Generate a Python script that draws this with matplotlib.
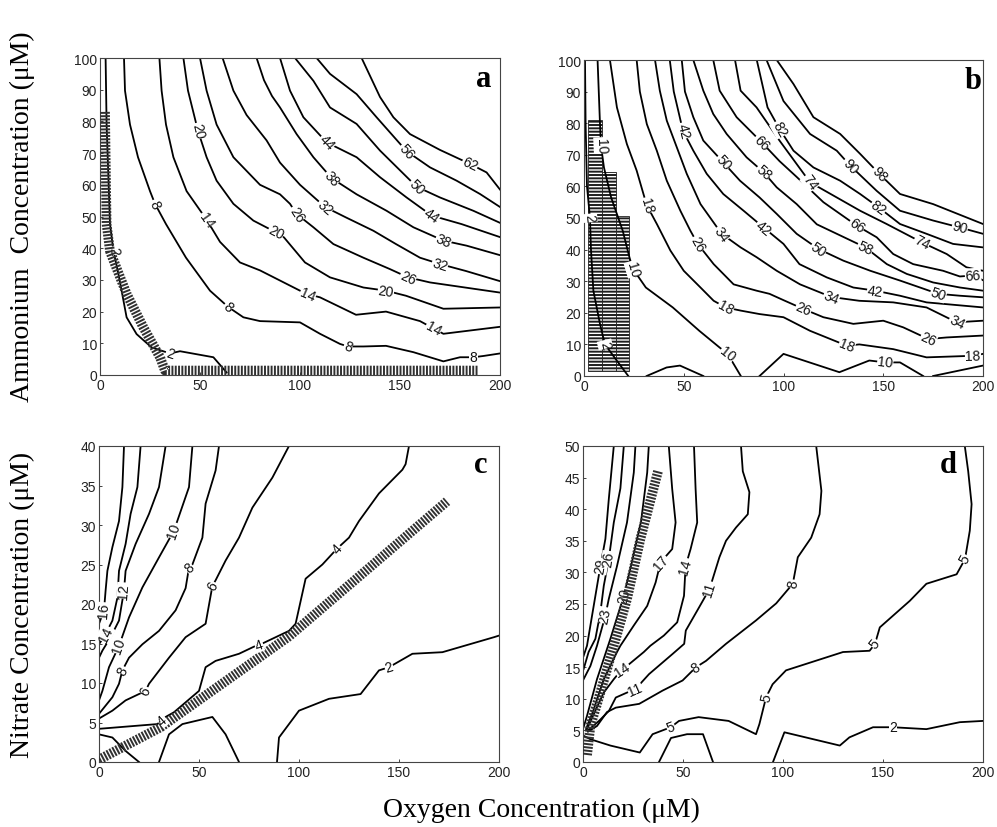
import numpy as np
import matplotlib
matplotlib.use("Agg")
import matplotlib.pyplot as plt

plt.rcParams['hatch.linewidth'] = 1.4
plt.rcParams['hatch.color'] = '#1e1e1e'

# ---------------- Panel a : ammonium vs oxygen ----------------
A_LEVELS = [2, 8, 14, 20, 26, 32, 38, 44, 50, 56, 62]
A_X = [
    [2.8, 3.3, 5.0, 6.7, 9.2, 10.8, 13.3, 18.3, 25.8, 35.0, 40.0, 56.7, 63.3],
    [12, 12.5, 15, 19, 25, 27.5, 33, 43, 55, 64, 71.7, 80, 90, 100, 110, 120, 124, 131.7, 143, 156.7, 171.7, 180, 186.7, 191.7, 200],
    [29.7, 30.8, 33, 36.7, 43.3, 53.3, 60, 70, 80, 90, 100, 104, 110, 128, 143, 160, 166.7, 171.7, 200],
    [41.7, 44, 49, 53.3, 58.3, 66.7, 76.7, 88, 92, 102.5, 115, 131.7, 143, 153, 171.7, 200],
    [50, 53.3, 58.3, 66.7, 80, 90, 95, 98.3, 106.7, 116.7, 131.7, 145, 154, 165, 200],
    [61.3, 66.7, 73.3, 83.3, 90, 100, 112.5, 123, 136.7, 148, 160, 170, 183, 200],
    [78.3, 82, 86, 90, 98.3, 106.7, 115.8, 128.3, 143.3, 156.7, 171.7, 183.3, 200],
    [90, 95, 101.7, 113.3, 128.3, 140, 153.3, 165.8, 180.8, 200],
    [97.5, 106.7, 115, 128.3, 140, 158.3, 170, 186.7, 200],
    [108.3, 115, 128.3, 138.3, 153.3, 165, 178.3, 190, 200],
    [130.8, 140, 146.7, 155, 170, 185, 193.3, 200],
]
A_Y = [
    [100, 79, 47.6, 39.2, 31.9, 26.6, 18.2, 12.9, 8.7, 6.8, 7.5, 5.6, 0.8],
    [100, 89.7, 79, 68.7, 58, 54, 47.6, 37, 26.6, 21.5, 18.2, 17, 16.8, 16.6, 13, 9.8, 9, 9, 9.2, 7.2, 4.3, 5.6, 5.6, 6, 6.8],
    [100, 89.7, 79, 68.7, 58, 49, 42, 35.5, 33, 29.8, 26.6, 25.5, 24.5, 19, 20, 17, 14.7, 13, 15.2],
    [100, 89.7, 77, 68.7, 61.3, 54, 48.7, 45, 43.4, 35.5, 30.8, 27.6, 26.6, 25, 20.9, 21.3],
    [100, 89.7, 79, 68.7, 60, 57, 54, 50.8, 46.6, 41.3, 37, 33.4, 30.8, 29.2, 26],
    [100, 89.7, 82, 74, 67, 60, 53, 49.7, 45.5, 41.3, 37, 35, 32.8, 29.6],
    [100, 93, 88, 84.4, 76, 68.7, 62.1, 57, 51.8, 46.6, 42.4, 40.8, 37.8],
    [100, 89.7, 81.3, 73.4, 68.7, 62.4, 56, 50.3, 47.6, 43.5],
    [100, 92.8, 84.4, 79.2, 70.8, 59.4, 56, 51.8, 48],
    [100, 95, 88.6, 81.3, 70.6, 65.5, 61.3, 57.1, 53],
    [100, 87.7, 81.3, 76, 71, 66.6, 63.9, 58.5],
]
A_LAB_LEV = [2, 2, 8, 8, 8, 8, 14, 14, 14, 20, 20, 20, 26, 26, 32, 32, 38, 38, 44, 44, 50, 56, 62]
A_LAB_X = [6.7, 35, 27.5, 64, 124, 186.7, 53.3, 104, 166.7, 49, 88, 143, 98.3, 154, 112.5, 170, 115.8, 171.7, 113.3, 165.8, 158.3, 153.3, 185]
A_LAB_Y = [39.2, 6.8, 54, 21.5, 9, 5.6, 49, 25.5, 14.7, 77, 45, 26.6, 50.8, 30.8, 53, 35, 62.1, 42.4, 73.4, 50.3, 59.4, 70.6, 66.6]
A_HATCH_X = [2.5, 3.0, 3.3, 5.0, 13.3, 21.7, 30, 32.5, 189]
A_HATCH_Y = [83, 60, 47.6, 39, 25.6, 15, 5.6, 1.4, 1.4]

# ---------------- Panel b ----------------
B_LEVELS = [2, 10, 10, 10, 10, 18, 26, 34, 42, 50, 58, 66, 74, 82, 90, 98]
B_X = [
    [0.5, 0.8, 1.5, 3.0, 3.5, 4.7, 8.0, 10.5, 16.4, 22.2],
    [6.8, 8, 8.5, 10, 13.6, 19.4, 22.8, 24.5, 31, 44.5, 57.8, 68, 72, 78.6],
    [88, 100, 128, 143, 151, 158.4, 170],
    [175, 200],
    [31.4, 41.4, 48.1, 59.8],
    [13, 16.5, 21.5, 26.4, 29.8, 31.5, 36.6, 43.3, 50, 58.4, 65, 71, 78.5, 88, 100, 113.3, 131.7, 138, 155, 171.7, 195, 200],
    [26.4, 28, 31.5, 36.5, 41.5, 48.3, 53.3, 57, 65, 75, 86.5, 93, 100, 110, 120, 135, 150, 160, 172.6, 181.8, 200],
    [35.6, 38, 41.5, 46.5, 51.5, 58.4, 69, 78.5, 86.5, 96.6, 108.3, 124, 138, 155, 171.7, 186.8, 200],
    [43, 45, 49.6, 54.8, 61.5, 69.8, 80, 90, 100, 108, 121.7, 135, 146, 158.4, 171.7, 200],
    [49, 50.6, 54.8, 59.8, 69.8, 78.2, 88, 96.6, 106.6, 117.5, 130, 143.5, 158.4, 177.6, 188.5, 200],
    [54.8, 59.8, 64.8, 71.5, 81.5, 90, 96.6, 106.6, 116.7, 126.7, 141, 151.8, 161.8, 175, 188.5, 200],
    [64.8, 68, 76.5, 89, 98, 106.6, 120, 136.7, 146.7, 155, 165, 180, 188.4, 195, 200],
    [75.7, 78.5, 86.5, 98, 113.3, 126.7, 138.4, 151.7, 169.3, 181.8, 191.7, 200],
    [86.6, 92, 98, 105, 115, 128.4, 138.4, 147.6, 158.4, 171.7, 185, 200],
    [91.5, 100, 113.3, 126.7, 133.4, 146.7, 158.4, 175, 188.4, 200],
    [96.6, 105, 115, 128.4, 138.4, 148, 158.4, 175, 200],
]
B_Y = [
    [100, 80, 60, 50, 40, 27, 16.5, 10, 4.9, 0],
    [100, 80, 73, 66, 56.5, 46, 37.5, 33.9, 28, 21.7, 14.3, 9, 7, 0],
    [0, 7, 1.2, 4.9, 4.3, 4.3, 0],
    [0, 3.3],
    [0, 2.7, 3.3, 0],
    [100, 85, 73.4, 65, 57.6, 54, 48, 39.7, 33.3, 28, 23.8, 21.7, 20.7, 19.6, 18.6, 14.3, 9.6, 10, 8.5, 5.9, 6.4, 7],
    [100, 90, 79.7, 71.3, 61.8, 52.3, 46, 41.8, 35.4, 29, 27, 26, 24, 21.2, 18.6, 16.5, 17.5, 15.4, 11.7, 12.2, 12.8],
    [100, 90.3, 80.8, 72.4, 64, 54.4, 45, 40.7, 37.6, 33.3, 29, 25, 23.8, 23.3, 21.7, 17, 17.5],
    [100, 90, 77.6, 71.3, 64, 57.6, 52.3, 47, 41.8, 35.4, 31.2, 28, 27, 25.4, 23.3, 21.7],
    [100, 90, 81.9, 74.5, 67.6, 61.8, 56.5, 51.3, 45, 40.2, 36.5, 33.3, 30.2, 26, 25.4, 24.9],
    [100, 90.3, 82.9, 76.6, 69.2, 64.5, 59.7, 54.4, 48, 45, 40.7, 35.4, 32.3, 29.6, 28, 27],
    [100, 90.3, 81.9, 74, 68, 63, 55, 47.6, 43.9, 38.6, 35.4, 33.3, 31.5, 31.8, 30.3],
    [100, 90.3, 85, 74.5, 61.3, 56.5, 52.3, 48.1, 42.3, 38.6, 34.4, 33.3],
    [100, 85, 78.2, 71.3, 66, 61.8, 57.6, 53.4, 48.1, 45, 41.8, 40.7],
    [100, 87, 76.6, 71.3, 66.6, 58.6, 52.3, 49.2, 47, 45],
    [100, 92.4, 81.9, 76.6, 70.3, 64, 57.6, 54.4, 48.1],
]
B_LAB_LEV = [2, 2, 10, 10, 10, 10, 18, 18, 18, 18, 26, 26, 26, 34, 34, 34, 42, 42, 42, 50, 50, 50, 58, 58, 66, 66, 66, 74, 74, 82, 82, 90, 90, 98]
B_LAB_X = [3.0, 10.5, 8.5, 24.5, 72, 151, 31.5, 71, 131.7, 195, 57, 110, 172.6, 69, 124, 186.8, 49.6, 90, 146, 69.8, 117.5, 177.6, 90, 141, 89, 136.7, 195, 113.3, 169.3, 98, 147.6, 133.4, 188.4, 148]
B_LAB_Y = [50, 10, 73, 33.9, 7, 4.3, 54, 21.7, 9.6, 6.4, 41.8, 21.2, 11.7, 45, 25, 17, 77.6, 47, 27, 67.6, 40.2, 26, 64.5, 40.7, 74, 47.6, 31.8, 61.3, 42.3, 78.2, 53.4, 66.6, 47, 64]
B_BOX_LEFT = [2.2, 9.0, 15.8]
B_BOX_RIGHT = [9.0, 15.8, 22.8]
B_BOX_TOP = [81, 64.5, 50.5]
B_BOX_BOTTOM = 1.7

# ---------------- Panel c : nitrate vs oxygen ----------------
C_LEVELS = [16, 14, 12, 10, 8, 6, 4, 2, 2, 4]
C_X = [
    [12.5, 11.7, 10, 6.7, 4.2, 3.3, 2.5, 0],
    [20.8, 19.2, 15.8, 13.3, 10, 9.2, 6.7, 3.3, 0],
    [33.3, 30, 25, 18.3, 13.3, 12.5, 10, 5.8, 1.7, 0],
    [46.7, 45, 37.5, 30, 21.7, 15, 10, 5, 1.7, 0],
    [60, 58.3, 53.3, 51.7, 46.7, 45, 43.3, 38.3, 30, 21.7, 15, 11.7, 10, 6.7, 0],
    [95, 86.7, 76.7, 70, 63.3, 58.3, 56.7, 53.3, 43.3, 35, 25, 23.3, 13.3, 6.7, 0],
    [0, 29.2, 33.3, 37.5, 50, 53.3, 58.3, 70, 78.3, 81.7, 95, 98.3, 103.3, 111.7, 119, 125, 130, 140, 151.7, 153.3, 155],
    [89, 90, 95, 100, 115, 130.8, 140, 145, 156.7, 171.7, 197.5, 200],
    [30, 35, 41.7, 56.7, 63.3, 70],
    [0, 6.7, 13.3, 20],
]
C_Y = [
    [40, 34.8, 30.5, 27.2, 24.2, 21.7, 19.2, 17.5],
    [40, 34.8, 31.4, 27.6, 24.2, 20.8, 17.9, 16.2, 14.9],
    [40, 34.8, 31.4, 27.6, 24.2, 21.7, 17.9, 15.8, 14.1, 13.2],
    [40, 34.8, 29.3, 25.9, 22.1, 18.3, 14.7, 12, 9, 7.8],
    [40, 36.9, 32.7, 28.4, 25, 24.6, 22, 19.2, 16.6, 14.9, 13.2, 11.6, 9.9, 8.2, 6.1],
    [40, 36, 32.2, 28.4, 25.5, 23, 22.3, 17.5, 15.8, 13.2, 9.9, 9, 7.8, 6.5, 5.5],
    [4.2, 4.8, 5.7, 6.3, 9, 12, 12.8, 13.7, 14.7, 15, 16.6, 17.5, 23.2, 25, 27, 28.4, 30.5, 34, 37, 37.7, 40],
    [0, 3.1, 4.8, 6.5, 8, 8.6, 11.6, 12, 13.7, 13.9, 15.8, 16],
    [0, 3.5, 4.8, 5.7, 3.5, 0],
    [3.5, 3.1, 1.4, 0],
]
C_LAB_LEV = [16, 14, 12, 10, 10, 8, 8, 6, 6, 4, 4, 4, 2]
C_LAB_X = [2.5, 3.3, 12.5, 37.5, 10, 45, 11.7, 56.7, 23.3, 31.5, 80, 119, 145]
C_LAB_Y = [19.2, 16.2, 21.7, 29.3, 14.7, 24.6, 11.6, 22.3, 9, 5.3, 14.8, 27, 12]
C_HATCH_X = [0, 30.8, 95, 174]
C_HATCH_Y = [0.3, 4.4, 15.9, 33.0]

# ---------------- Panel d ----------------
D_LEVELS = [29, 26, 23, 20, 17, 14, 11, 8, 5, 2, 2]
D_X = [
    [15.4, 12.9, 11.2, 8.7, 6.2, 3.7, 2.0, 0.3],
    [20.4, 18.7, 15.4, 12.9, 10.4, 8.7, 6.2, 2.8, 0.3],
    [26.2, 25.4, 22, 17, 12.9, 11.2, 7, 3.7, 0.3],
    [32.9, 32.1, 29, 24, 20.4, 13.7, 7, 2, 0.3],
    [42.9, 44.6, 46.3, 44.6, 38.8, 36.3, 32.1, 25.4, 18.7, 17, 10.4, 5, 1.5],
    [55.5, 56.3, 57.1, 53.8, 51.3, 50.5, 47.1, 40.4, 33.7, 30.4, 22, 19.6, 15.4, 10.4, 6, 2],
    [79, 79.9, 83.2, 82.4, 76.5, 71.5, 68.2, 63.3, 58.1, 51.4, 50.6, 44.8, 33, 26.4, 16.4, 13, 8, 2.5],
    [116.6, 119.2, 118.3, 114.1, 107.4, 104.9, 96.6, 86.5, 71.5, 61.5, 56.5, 49.8, 39.8, 28.1, 16.4, 12, 7, 2.5],
    [0, 3.7, 13.7, 28.4, 34.8, 43.9, 48, 57.8, 72.8, 86.5, 88.2, 91.5, 94.8, 101.5, 130, 143.3, 146, 148.4, 163.4, 171.7, 186.8, 191, 193.4, 194.3, 192.6, 190.9],
    [95, 100.7, 128.4, 133.2, 145, 155, 171.7, 188.4, 200],
    [38, 44, 52, 60, 65],
]
D_Y = [
    [50, 41.6, 35.3, 31, 26.3, 21.6, 18.4, 16.8],
    [50, 43.3, 37.9, 32.1, 27.9, 23.7, 19.5, 17.4, 14.7],
    [50, 45.8, 37.9, 31, 25.8, 23.2, 18.4, 15.2, 13.1],
    [50, 45.8, 38, 31, 26.3, 19.5, 13.1, 7.3, 5.5],
    [50, 43.2, 37.9, 33.7, 31.6, 28.4, 24.7, 21.6, 18.4, 17.4, 13.1, 8, 5.2],
    [50, 43.2, 37.9, 33.7, 31, 26.3, 22.1, 20, 18.4, 17.4, 15.2, 14.7, 13.1, 11, 8, 5.2],
    [50, 46, 42.7, 39.2, 37.1, 35, 32.4, 27.4, 24.5, 20.8, 18.7, 17.1, 13.9, 11.6, 10.2, 8.1, 6.5, 5.0],
    [50, 42.9, 39.2, 35.5, 32.4, 28.2, 25.1, 22.4, 18.7, 16, 15, 12.9, 11.3, 9.2, 8.6, 7.9, 5.7, 4.8],
    [4.2, 3.6, 2.6, 1.5, 4.4, 5.5, 6.5, 7.1, 6.5, 4.4, 6, 10.2, 12.3, 14.5, 17.4, 17.6, 18.7, 21.3, 25.5, 28.2, 29.7, 32.1, 36.6, 40.8, 46, 50],
    [0, 4.7, 2.6, 3.9, 5.5, 5.5, 5.2, 6.3, 6.5],
    [0, 3.8, 4.4, 4.4, 0],
]
D_LAB_LEV = [29, 26, 23, 20, 17, 14, 14, 11, 11, 8, 8, 5, 5, 5, 5, 2]
D_LAB_X = [8.7, 12.9, 11.2, 20.4, 38.8, 51.3, 19.6, 63.3, 26.3, 104.9, 56.5, 43.9, 91.5, 146, 191, 155]
D_LAB_Y = [31, 32.1, 23.2, 26.3, 31.6, 31, 14.7, 27.4, 11.3, 28.2, 15, 5.5, 10.2, 18.7, 32.1, 5.5]
D_HATCH_X = [37.5, 28.7, 22, 15.4, 8.7, 3.7, 2.0]
D_HATCH_Y = [46, 35.3, 25.8, 18.4, 11, 5.7, 1]

PANEL_LETTERS = ['a', 'b', 'c', 'd']

# ---------------- drawing ----------------
W, H = 997, 828
fig = plt.figure(figsize=(W / 100, H / 100), dpi=100)
fig.patch.set_facecolor('white')

TICK_FONT = 'Liberation Sans'
SERIF = 'Liberation Serif'


def make_ax(left_px, top_px, right_px, bottom_px, ymax, ystep):
    ax = fig.add_axes([left_px / W, 1 - bottom_px / H, (right_px - left_px) / W, (bottom_px - top_px) / H])
    ax.set_xlim(0, 200)
    ax.set_ylim(0, ymax)
    ax.set_xticks([0, 50, 100, 150, 200])
    ax.set_yticks(np.arange(0, ymax + 0.1, ystep))
    ax.tick_params(direction='in', length=2.5, width=0.6, pad=2, labelsize=10, colors='#222222')
    for lab in ax.get_xticklabels() + ax.get_yticklabels():
        lab.set_family(TICK_FONT)
    for sp in ax.spines.values():
        sp.set_linewidth(0.8)
        sp.set_color('#444444')
    return ax


def draw_lines(ax, levels, xs, ys):
    for lv, x, y in zip(levels, xs, ys):
        ax.plot(x, y, color='black', lw=1.3, zorder=2, solid_joinstyle='round')


def draw_labels(ax, levels, xs, ys, lab_lev, lab_x, lab_y, z=3):
    T = ax.transData
    for lv, lx, ly in zip(lab_lev, lab_x, lab_y):
        p = T.transform((lx, ly))
        best = None
        for L, X, Y in zip(levels, xs, ys):
            if L != lv:
                continue
            P = T.transform(np.column_stack([X, Y]))
            for i in range(len(P) - 1):
                a, b = P[i], P[i + 1]
                d = b - a
                dd = float(np.dot(d, d))
                if dd < 1e-9:
                    continue
                t = np.clip(np.dot(p - a, d) / dd, 0, 1)
                q = a + t * d
                dist = np.hypot(*(p - q))
                if best is None or dist < best[0]:
                    best = (dist, q, d)
        _, q, d = best
        ang = np.degrees(np.arctan2(d[1], d[0]))
        if ang > 90:
            ang -= 180
        if ang <= -90:
            ang += 180
        qd = T.inverted().transform(q)
        ax.text(qd[0], qd[1], str(lv), rotation=ang, rotation_mode='anchor',
                ha='center', va='center', fontsize=10, family=TICK_FONT,
                color='#111111', zorder=z,
                bbox=dict(fc='white', ec='none', pad=0.3))


def draw_hatch_line(ax, x, y):
    ax.plot(x, y, color='#303030', lw=7, dashes=(0.2, 0.14),
            solid_capstyle='butt', dash_capstyle='butt', zorder=4)


ax_a = make_ax(100, 59, 500, 376, 100, 10)
ax_b = make_ax(584, 61, 983, 377, 100, 10)
ax_c = make_ax(99, 447, 499, 763, 40, 5)
ax_d = make_ax(583, 447, 983, 763, 50, 5)

# panel a
draw_lines(ax_a, A_LEVELS, A_X, A_Y)
draw_labels(ax_a, A_LEVELS, A_X, A_Y, A_LAB_LEV, A_LAB_X, A_LAB_Y)
draw_hatch_line(ax_a, A_HATCH_X, A_HATCH_Y)

# panel b
widths = [r - l for l, r in zip(B_BOX_LEFT, B_BOX_RIGHT)]
heights = [t - B_BOX_BOTTOM for t in B_BOX_TOP]
ax_b.bar(B_BOX_LEFT, heights, widths, bottom=B_BOX_BOTTOM, align='edge',
         facecolor='white', edgecolor='#1e1e1e', linewidth=0.6, hatch='-----', zorder=1)
draw_lines(ax_b, B_LEVELS, B_X, B_Y)
draw_labels(ax_b, B_LEVELS, B_X, B_Y, B_LAB_LEV, B_LAB_X, B_LAB_Y)

# panel c
draw_lines(ax_c, C_LEVELS, C_X, C_Y)
draw_hatch_line(ax_c, C_HATCH_X, C_HATCH_Y)
draw_labels(ax_c, C_LEVELS, C_X, C_Y, C_LAB_LEV, C_LAB_X, C_LAB_Y, z=5)

# panel d
draw_lines(ax_d, D_LEVELS, D_X, D_Y)
draw_labels(ax_d, D_LEVELS, D_X, D_Y, D_LAB_LEV, D_LAB_X, D_LAB_Y)
draw_hatch_line(ax_d, D_HATCH_X, D_HATCH_Y)

# panel letters
letter_pos = [(0.958, 0.935), (0.975, 0.935), (0.954, 0.94), (0.912, 0.94)]
for ax, letter, (lx, ly) in zip([ax_a, ax_b, ax_c, ax_d], PANEL_LETTERS, letter_pos):
    ax.text(lx, ly, letter, transform=ax.transAxes, ha='center', va='center',
            fontsize=22, fontweight='bold', family=SERIF, zorder=6)

# axis titles
fig.text(22 / W, 1 - 217 / H, 'Ammonium  Concentration (\u03bcM)', rotation=90,
         ha='center', va='center', fontsize=20, family=SERIF)
fig.text(22 / W, 1 - 605 / H, 'Nitrate Concentration (\u03bcM)', rotation=90,
         ha='center', va='center', fontsize=20, family=SERIF)
fig.text(541 / W, 1 - 810 / H, 'Oxygen Concentration (\u03bcM)',
         ha='center', va='center', fontsize=20, family=SERIF)

fig.savefig('out.png', dpi=100, facecolor='white')
